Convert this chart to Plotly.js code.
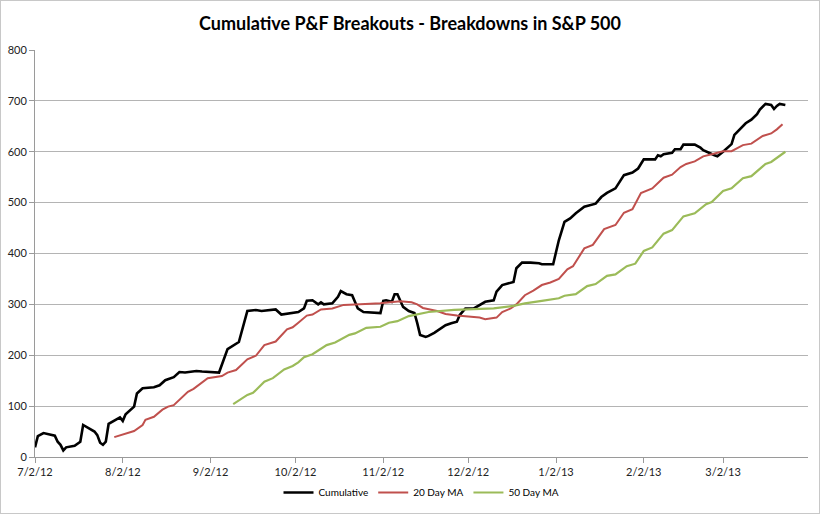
<!DOCTYPE html>
<html>
<head>
<meta charset="utf-8">
<script src="https://cdn.plot.ly/plotly-3.0.1.min.js"></script>
<style>
html,body{margin:0;padding:0;background:#fff;}
#chart{width:820px;height:514px;box-sizing:border-box;border:1px solid #c8c8c8;}
</style>
</head>
<body>
<div id="chart"></div>
<script>
// ---- data ----
var cumDates = ["2012-07-02","2012-07-03","2012-07-05","2012-07-09","2012-07-10","2012-07-11","2012-07-12","2012-07-13","2012-07-16","2012-07-18","2012-07-19","2012-07-23","2012-07-24","2012-07-25","2012-07-26","2012-07-27","2012-07-28","2012-08-01","2012-08-02","2012-08-03","2012-08-06","2012-08-07","2012-08-09","2012-08-13","2012-08-15","2012-08-17","2012-08-20","2012-08-22","2012-08-24","2012-08-28","2012-08-30","2012-09-05","2012-09-08","2012-09-12","2012-09-15","2012-09-18","2012-09-20","2012-09-25","2012-09-27","2012-09-30","2012-10-03","2012-10-05","2012-10-06","2012-10-08","2012-10-10","2012-10-11","2012-10-12","2012-10-15","2012-10-17","2012-10-18","2012-10-20","2012-10-22","2012-10-24","2012-10-26","2012-11-01","2012-11-02","2012-11-03","2012-11-05","2012-11-06","2012-11-07","2012-11-09","2012-11-11","2012-11-13","2012-11-14","2012-11-15","2012-11-17","2012-11-18","2012-11-20","2012-11-24","2012-11-26","2012-11-28","2012-11-29","2012-12-01","2012-12-04","2012-12-06","2012-12-08","2012-12-11","2012-12-12","2012-12-14","2012-12-17","2012-12-18","2012-12-19","2012-12-21","2012-12-24","2012-12-27","2012-12-28","2013-01-01","2013-01-03","2013-01-05","2013-01-07","2013-01-09","2013-01-12","2013-01-16","2013-01-18","2013-01-20","2013-01-23","2013-01-26","2013-01-29","2013-01-31","2013-02-02","2013-02-06","2013-02-07","2013-02-08","2013-02-09","2013-02-12","2013-02-13","2013-02-15","2013-02-16","2013-02-20","2013-02-22","2013-02-23","2013-02-27","2013-02-28","2013-03-02","2013-03-05","2013-03-06","2013-03-08","2013-03-10","2013-03-12","2013-03-14","2013-03-15","2013-03-17","2013-03-19","2013-03-20","2013-03-21","2013-03-22","2013-03-24"];
var cumValues = [19,41,47,42,30,24,13,19,22,30,63,50,43,28,24,30,65,78,71,84,99,125,135,137,141,151,157,167,166,169,168,166,212,226,287,289,287,290,280,282,285,292,307,308,300,304,300,302,315,326,320,318,292,285,283,307,308,305,320,320,295,287,283,263,240,236,238,244,259,263,266,279,292,292,299,305,308,325,338,342,344,371,382,382,381,379,379,426,462,469,479,492,498,511,519,528,554,559,567,585,585,593,591,595,598,605,605,614,614,608,603,593,591,600,615,633,644,656,663,674,683,694,692,684,690,694,692];

var ma20Dates = ["2012-07-30","2012-08-03","2012-08-06","2012-08-09","2012-08-10","2012-08-13","2012-08-16","2012-08-18","2012-08-20","2012-08-25","2012-08-27","2012-09-01","2012-09-06","2012-09-08","2012-09-11","2012-09-15","2012-09-18","2012-09-21","2012-09-25","2012-09-29","2012-10-01","2012-10-03","2012-10-06","2012-10-08","2012-10-11","2012-10-15","2012-10-19","2012-10-23","2012-11-01","2012-11-08","2012-11-12","2012-11-14","2012-11-16","2012-11-21","2012-11-24","2012-11-28","2012-12-01","2012-12-06","2012-12-08","2012-12-12","2012-12-14","2012-12-17","2012-12-19","2012-12-22","2012-12-25","2012-12-28","2012-12-31","2013-01-03","2013-01-06","2013-01-08","2013-01-12","2013-01-15","2013-01-19","2013-01-23","2013-01-26","2013-01-29","2013-02-01","2013-02-05","2013-02-09","2013-02-12","2013-02-15","2013-02-17","2013-02-20","2013-02-23","2013-02-26","2013-03-02","2013-03-05","2013-03-09","2013-03-12","2013-03-16","2013-03-19","2013-03-21","2013-03-23"];
var ma20Values = [39,46,51,63,73,79,93,99,102,128,134,155,159,166,171,192,199,220,227,251,255,264,278,280,290,292,299,300,302,306,304,300,293,287,281,278,276,274,271,274,285,292,300,318,327,338,343,350,369,375,410,417,448,456,480,487,519,528,549,555,570,576,581,591,595,601,601,613,616,631,636,644,654];

var ma50Dates = ["2012-09-10","2012-09-15","2012-09-17","2012-09-21","2012-09-24","2012-09-28","2012-10-01","2012-10-03","2012-10-05","2012-10-08","2012-10-13","2012-10-16","2012-10-21","2012-10-23","2012-10-27","2012-11-01","2012-11-04","2012-11-07","2012-11-11","2012-11-15","2012-11-18","2012-11-27","2012-12-05","2012-12-11","2012-12-18","2012-12-22","2012-12-28","2013-01-03","2013-01-05","2013-01-09","2013-01-13","2013-01-16","2013-01-20","2013-01-23","2013-01-27","2013-01-30","2013-02-02","2013-02-05","2013-02-09","2013-02-12","2013-02-16","2013-02-20","2013-02-24","2013-02-26","2013-03-02","2013-03-05","2013-03-09","2013-03-12","2013-03-17","2013-03-19","2013-03-24"];
var ma50Values = [104,122,126,148,155,172,179,186,196,202,220,225,240,243,254,256,264,267,277,282,285,289,290,292,297,302,307,312,317,320,336,340,356,359,375,380,405,412,439,446,473,479,497,501,523,528,548,552,576,580,600];

var xTickVals = ["2012-07-02","2012-08-02","2012-09-02","2012-10-02","2012-11-02","2012-12-02","2013-01-02","2013-02-02","2013-03-02"];
var xTickText = ["7/2/12","8/2/12","9/2/12","10/2/12","11/2/12","12/2/12","1/2/13","2/2/13","3/2/13"];
var seriesNames = ["Cumulative","20 Day MA","50 Day MA"];
var chartTitle = "Cumulative P&F Breakouts - Breakdowns in S&P 500";

// ---- chart ----
var FONT = "Lato, 'Open Sans', sans-serif";
var traces = [
  {x: cumDates, y: cumValues, name: seriesNames[0], type: "scatter", mode: "lines",
   line: {color: "#000000", width: 2.6}},
  {x: ma20Dates, y: ma20Values, name: seriesNames[1], type: "scatter", mode: "lines",
   line: {color: "#c0504d", width: 2}},
  {x: ma50Dates, y: ma50Values, name: seriesNames[2], type: "scatter", mode: "lines",
   line: {color: "#9bbb59", width: 2.2}}
];

var layout = {
  width: 818, height: 512,
  margin: {l: 34, r: 11, t: 49, b: 56, autoexpand: false},
  paper_bgcolor: "#ffffff", plot_bgcolor: "#ffffff",
  font: {family: FONT, size: 11, color: "#222"},
  title: {text: chartTitle, x: 0.5, xanchor: "center", y: 0.955, yanchor: "middle",
          font: {family: FONT, size: 18, color: "#000", weight: "bold"}},
  xaxis: {type: "date", range: ["2012-07-02", "2013-04-01"],
          tickmode: "array", tickvals: xTickVals, ticktext: xTickText,
          showgrid: false, zeroline: false, showline: true, linecolor: "#9a9a9a", linewidth: 1,
          ticks: "outside", ticklen: 5, tickcolor: "#9a9a9a", automargin: false,
          tickfont: {family: FONT, size: 11, color: "#222"}, fixedrange: true},
  yaxis: {range: [0, 800], dtick: 100, tick0: 0, automargin: false,
          showgrid: true, gridcolor: "#b4b4b4", gridwidth: 1,
          zeroline: false, showline: true, linecolor: "#9a9a9a", linewidth: 1,
          ticks: "outside", ticklen: 5, tickcolor: "#9a9a9a",
          tickfont: {family: FONT, size: 11, color: "#222"}, fixedrange: true},
  showlegend: true,
  legend: {orientation: "h", x: 0.5, xanchor: "center", yref: "container", y: 0.04, yanchor: "middle",
           font: {family: FONT, size: 10, color: "#000"}, itemwidth: 30, tracegroupgap: 0}
};

Plotly.newPlot("chart", traces, layout, {displayModeBar: false, staticPlot: true});
</script>
</body>
</html>
